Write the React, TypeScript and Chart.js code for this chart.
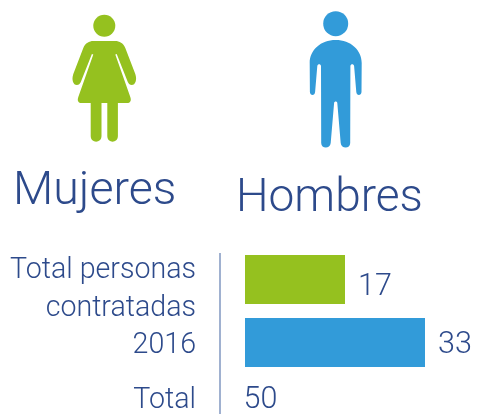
import React, { useEffect, useRef } from "react";
import { Chart, registerables } from "chart.js";

Chart.register(...registerables);

const categories = ["Mujeres", "Hombres"];
const values = [17, 33];
const barColors = ["#95c11f", "#329bd9"];
const rowLabel = ["Total personas", "contratadas", "2016"];
const totalLabel = "Total";
const total = 50;

const INK = "#2d4a8b";
const FONT = "300 28.6px Roboto, sans-serif";
const VALUE_FONT = "300 30.5px Roboto, sans-serif";
const BIG_W = "300 46.5px Roboto, sans-serif";
const BIG_M = "300 46px Roboto, sans-serif";

const womanPath =
  "M-11 41 H11 C15 41 19 43 21 48 L31 74 C33 80 31 85 27.5 85 C25.5 85 24.5 84 23.5 82 L12.4 54 L11 54.4 L26 97 C27.5 101 25.5 103 23 103 H13.6 V136 C13.6 143.5 3 143.5 3 136 V103 H-2.8 V136 C-2.8 143.5 -13.6 143.5 -13.6 136 V103 H-23 C-25.5 103 -27.5 101 -26 97 L-11 54.4 L-12.4 54 L-23.5 82 C-24.5 84 -25.5 85 -27.5 85 C-31 85 -33 80 -31 74 L-21 48 C-19 43 -15 41 -11 41 Z";

const manPath =
  "M0 40 C15 40 26 50 26 63 L25.8 92 C25.6 96 20.8 96 20.6 92 L18.4 66 C18 63.5 15 63.5 14.7 66 L14.5 143 C14.5 149 5.5 149 5 143 L1.6 103 C1.4 101 -1.4 101 -1.6 103 L-5 143 C-5.5 149 -14.5 149 -14.5 143 L-14.7 66 C-15 63.5 -18 63.5 -18.4 66 L-20.6 92 C-20.8 96 -25.6 96 -25.8 92 L-26 63 C-26 50 -15 40 0 40 Z";

const overlay = {
  id: "overlay",
  afterDraw(chart: any) {
    const { ctx, scales } = chart;
    const meta = chart.getDatasetMeta(0);
    ctx.save();

    ctx.fillStyle = barColors[0];
    ctx.translate(104.3, 0);
    ctx.beginPath();
    ctx.arc(0, 25.7, 11, 0, Math.PI * 2);
    ctx.fill();
    ctx.fill(new Path2D(womanPath));
    ctx.setTransform(1, 0, 0, 1, 0, 0);

    ctx.fillStyle = barColors[1];
    ctx.translate(335.7, 0);
    ctx.beginPath();
    ctx.arc(0, 23.7, 12.5, 0, Math.PI * 2);
    ctx.fill();
    ctx.fill(new Path2D(manPath));
    ctx.setTransform(1, 0, 0, 1, 0, 0);

    ctx.fillStyle = INK;
    ctx.textBaseline = "alphabetic";
    ctx.textAlign = "left";
    ctx.font = BIG_W;
    ctx.fillText(categories[0], 13, 204);
    ctx.font = BIG_M;
    ctx.fillText(categories[1], 236, 211);

    ctx.font = FONT;
    ctx.textAlign = "right";
    const baselines = [278, 316, 353];
    rowLabel.forEach((t, i) => ctx.fillText(t, 196, baselines[i]));
    ctx.fillText(totalLabel, 196, 408);

    ctx.font = VALUE_FONT;
    ctx.textAlign = "left";
    const valueBaselines = [295, 353];
    values.forEach((v, i) => {
      ctx.fillText(String(v), meta.data[i].x + 13, valueBaselines[i]);
    });
    ctx.fillText(String(total), scales.x.left - 1.5, 408);

    ctx.strokeStyle = "#8097c1";
    ctx.lineWidth = 1.5;
    ctx.beginPath();
    ctx.moveTo(220, 253);
    ctx.lineTo(220, 414);
    ctx.stroke();
    ctx.restore();
  },
};

export default function App() {
  const ref = useRef<HTMLCanvasElement>(null);
  useEffect(() => {
    const chart = new Chart(ref.current!, {
      type: "bar",
      data: {
        labels: categories,
        datasets: [
          {
            data: values,
            base: -3,
            backgroundColor: barColors,
            barPercentage: 0.778,
            categoryPercentage: 1,
          },
        ],
      },
      options: {
        indexAxis: "y",
        animation: false,
        responsive: false,
        layout: { padding: { left: 245, top: 248, bottom: 40, right: 0 } },
        plugins: { legend: { display: false }, tooltip: { enabled: false } },
        scales: {
          x: { display: false, min: -3, max: 43.6 },
          y: { display: false },
        },
      },
      plugins: [overlay],
    } as any);
    return () => chart.destroy();
  }, []);
  return (
    <canvas
      ref={ref}
      width={478}
      height={414}
      style={{ position: "absolute", left: 0, top: 0, width: 478, height: 414 }}
    />
  );
}
